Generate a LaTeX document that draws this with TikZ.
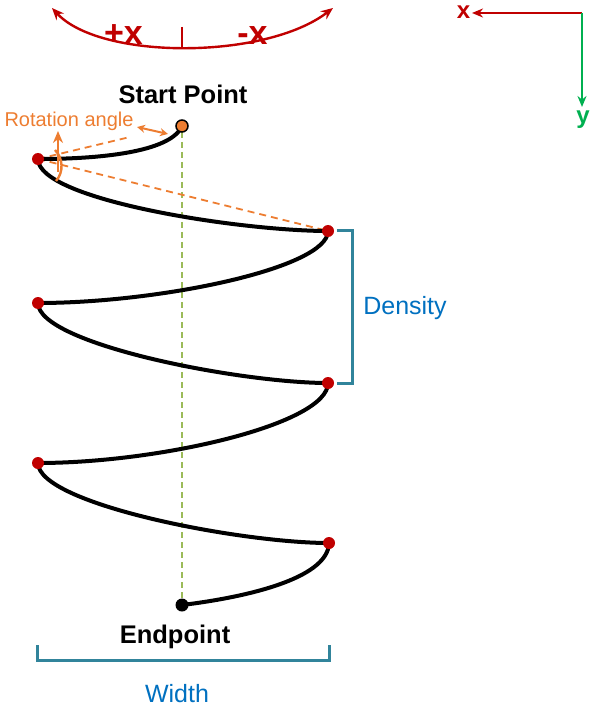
\documentclass[tikz,border=0pt]{standalone}
\usepackage{fontspec}
\setmainfont{Liberation Sans}
\usetikzlibrary{arrows.meta}
\definecolor{dred}{HTML}{C00000}
\definecolor{orng}{HTML}{ED7D31}
\definecolor{grn}{HTML}{00B050}
\definecolor{teal2}{HTML}{31849B}
\definecolor{blu}{HTML}{0070C0}
\definecolor{olive}{HTML}{9BBB59}
\tikzset{
  spiral/.style={line width=4pt, black, line cap=round},
  reddot/.style={circle, fill=dred, inner sep=0pt, minimum size=12pt},
  bracket/.style={line width=3pt, teal2},
  lbl/.style={anchor=base, inner sep=0pt},
  oradash/.style={orng, line width=1.8pt, dash pattern=on 7pt off 5pt},
}
\begin{document}
\begin{tikzpicture}[x=1pt,y=-1pt]
\useasboundingbox (0,0) rectangle (598,708);
% top red arc
\coordinate (arcL) at (52,8);
\coordinate (arcR) at (333,8);
\coordinate (tickT) at (182,27);
\coordinate (tickB) at (182,48);
\draw[dred, line width=2.4pt, {Stealth[length=12pt,width=10pt]}-{Stealth[length=12pt,width=10pt]}]
  (arcL) .. controls (100,60) and (265,60) .. (arcR);
\draw[dred, line width=2.4pt] (tickT) -- (tickB);
\node[lbl, dred, font=\fontsize{34}{34}\bfseries\selectfont] (px) at (123.5,45) {+x};
\node[lbl, dred, font=\fontsize{34}{34}\bfseries\selectfont] (mx) at (252.5,45) {-x};
% axes
\coordinate (O) at (582,13);
\coordinate (xe) at (472,13);
\coordinate (ye) at (582,107);
\draw[dred, line width=2pt, -{Stealth[length=11pt,width=9pt]}] (O) -- (xe);
\draw[grn, line width=2pt, -{Stealth[length=11pt,width=9pt]}] (O) -- (ye);
\node[lbl, dred, font=\fontsize{24}{24}\bfseries\selectfont] (xl) at (463.5,19) {x};
\node[lbl, grn, font=\fontsize{24}{24}\bfseries\selectfont] (yl) at (583,124) {y};
% labels
\node[lbl, font=\fontsize{25.5}{26}\bfseries\selectfont] (sp) at (183,104) {Start Point};
\node[lbl, font=\fontsize{25.5}{26}\bfseries\selectfont] (ep) at (175,643) {Endpoint};
\node[lbl, orng, font=\fontsize{20}{20}\selectfont] (ra) at (69,127) {Rotation angle};
\node[lbl, blu, font=\fontsize{25}{25}\selectfont] (dn) at (405,314) {Density};
\node[lbl, blu, font=\fontsize{25}{25}\selectfont] (wd) at (177,702) {Width};
% points
\coordinate (S) at (182,126);
\coordinate (L1) at (38,159);
\coordinate (R1) at (328,231);
\coordinate (L2) at (38,303);
\coordinate (R2) at (328,383);
\coordinate (L3) at (38,463);
\coordinate (R3) at (329,543);
\coordinate (E) at (182,605);
% axis line
\draw[olive, line width=1.5pt, dash pattern=on 6pt off 4pt] (182,132) -- (182,600);
% orange dashed
\draw[oradash] (L1) -- (130,137);
\draw[oradash] (L1) -- (R1);
% spiral
\draw[spiral] (S) .. controls (172,150) and (110,159) .. (L1)
  .. controls (38,200) and (240,231) .. (R1)
  .. controls (328,268) and (160,303) .. (L2)
  .. controls (38,344) and (240,383) .. (R2)
  .. controls (328,424) and (160,463) .. (L3)
  .. controls (38,504) and (240,543) .. (R3)
  .. controls (328,580) and (240,598) .. (E);
% rotation arrows
\draw[orng, line width=2pt, {Stealth[length=8pt,width=8pt]}-{Stealth[length=8pt,width=8pt]}] (137,127) -- (168,134);
\draw[orng, line width=2.4pt] (55,150) .. controls (63,158) and (64,172) .. (56,181);
\draw[orng, line width=2.4pt, -{Stealth[length=12pt,width=10pt]}] (58,172) -- (58,131);
% dots
\node[reddot] (dL1) at (L1) {};
\node[reddot] (dR1) at (R1) {};
\node[reddot] (dL2) at (L2) {};
\node[reddot] (dR2) at (R2) {};
\node[reddot] (dL3) at (L3) {};
\node[reddot] (dR3) at (R3) {};
\node[circle, fill=orng, draw=black, line width=1.5pt, inner sep=0pt, minimum size=12pt] (dS) at (S) {};
\node[circle, fill=black, inner sep=0pt, minimum size=13pt] (dE) at (E) {};
% brackets
\draw[bracket] (337,231) -- (352,231) -- (352,383) -- (337,383);
\draw[bracket] (37,645) -- (37,660) -- (329,660) -- (329,645);
\end{tikzpicture}
\end{document}
